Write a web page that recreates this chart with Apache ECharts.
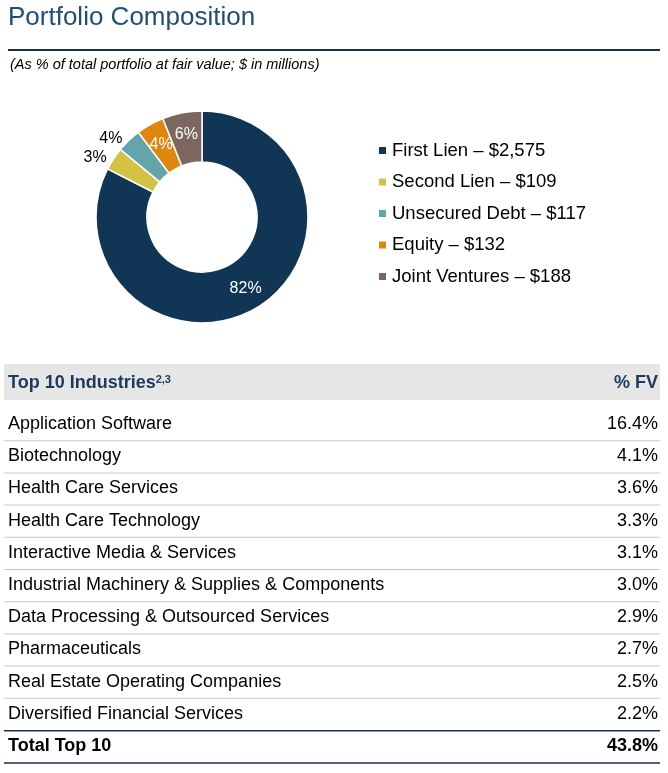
<!DOCTYPE html>
<html>
<head>
<meta charset="utf-8">
<script src="https://cdn.jsdelivr.net/npm/echarts@6/dist/echarts.min.js"></script>
<style>
  html, body { margin: 0; padding: 0; background: #fff; }
  #chart { width: 668px; height: 773px; }
</style>
</head>
<body>
<div id="chart"></div>
<script>
// portfolio mix, $ in millions
var assetNames = ['First Lien', 'Second Lien', 'Unsecured Debt', 'Equity', 'Joint Ventures'];
var assetValues = [2575, 109, 117, 132, 188];
var assetPct = ['82%', '3%', '4%', '4%', '6%'];
var assetColors = ['#113555', '#d4c244', '#66a4ab', '#df860f', '#7b6660'];
var insideLabel = [true, false, false, true, true];

var industries = ['Application Software', 'Biotechnology', 'Health Care Services', 'Health Care Technology',
  'Interactive Media & Services', 'Industrial Machinery & Supplies & Components',
  'Data Processing & Outsourced Services', 'Pharmaceuticals', 'Real Estate Operating Companies',
  'Diversified Financial Services'];
var industryPct = ['16.4%', '4.1%', '3.6%', '3.3%', '3.1%', '3.0%', '2.9%', '2.7%', '2.5%', '2.2%'];
var totalLabel = 'Total Top 10';
var totalPct = '43.8%';

var font = 'Liberation Sans, Arial, sans-serif';
var navy = '#1b3a5c';
var rowFont = '18px ' + font;

var pieData = assetNames.map(function (n, i) {
  var lab = insideLabel[i]
    ? { position: 'inside', color: '#fff' }
    : { position: 'outside', color: '#000', distance: 2 };
  return {
    name: n, value: assetValues[i], pct: assetPct[i],
    itemStyle: { color: assetColors[i] },
    label: lab, labelLine: { show: false, length: 2, length2: 0 }
  };
});

var g = [
  { type: 'text', left: 8, top: 5, style: { text: 'Portfolio Composition', font: '26px ' + font, fill: '#1f4e79' } },
  { type: 'rect', shape: { x: 8, y: 49, width: 652, height: 2 }, style: { fill: '#1b2f4a' } },
  { type: 'text', left: 10, top: 57, style: { text: '(As % of total portfolio at fair value; $ in millions)', font: 'italic 14.5px ' + font, fill: '#000' } },
  { type: 'rect', shape: { x: 4, y: 364, width: 656, height: 36 }, style: { fill: '#e6e6e6' } },
  { type: 'text', left: 8, top: 374, style: { rich: {
      b: { font: 'bold 18px ' + font, fill: navy },
      s: { font: 'bold 11px ' + font, fill: navy, verticalAlign: 'top', padding: [0, 0, 8, 0] } },
      text: '{b|Top 10 Industries}{s|2,3}' } },
  { type: 'text', right: 10, top: 374, style: { text: '% FV', font: 'bold 18px ' + font, fill: navy, align: 'right' } }
];

var rowTop = 408, rowH = 32.2;
industries.forEach(function (name, i) {
  var y = rowTop + i * rowH;
  g.push({ type: 'text', left: 8, top: y + 7, style: { text: name, font: rowFont, fill: '#000' } });
  g.push({ type: 'text', right: 10, top: y + 7, style: { text: industryPct[i], font: rowFont, fill: '#000', align: 'right' } });
  if (i < industries.length - 1) {
    g.push({ type: 'rect', shape: { x: 4, y: y + rowH, width: 656, height: 1 }, style: { fill: '#c8c8c8' } });
  }
});
var ty = rowTop + industries.length * rowH;
g.push({ type: 'rect', shape: { x: 4, y: ty, width: 656, height: 1.5 }, style: { fill: '#1b2f4a' } });
g.push({ type: 'text', left: 8, top: ty + 7, style: { text: totalLabel, font: 'bold 18px ' + font, fill: '#000' } });
g.push({ type: 'text', right: 10, top: ty + 7, style: { text: totalPct, font: 'bold 18px ' + font, fill: '#000', align: 'right' } });
g.push({ type: 'rect', shape: { x: 4, y: ty + rowH, width: 656, height: 1.5 }, style: { fill: '#1b2f4a' } });

var chart = echarts.init(document.getElementById('chart'));
chart.setOption({
  animation: false,
  textStyle: { fontFamily: font },
  legend: {
    orient: 'vertical', left: 372, top: 136, itemGap: 12.5,
    icon: 'rect', itemWidth: 9, itemHeight: 9,
    textStyle: { fontSize: 18.5, color: '#000', fontFamily: font },
    formatter: function (n) {
      var i = assetNames.indexOf(n);
      return n + ' \u2013 $' + assetValues[i].toLocaleString('en-US');
    }
  },
  series: [{
    type: 'pie', center: [202, 217], radius: [55, 106], startAngle: 90,
    itemStyle: { borderColor: '#fff', borderWidth: 1.5 },
    label: { fontSize: 16, fontFamily: font, formatter: function (p) { return p.data.pct; } },
    emphasis: { disabled: true },
    data: pieData
  }],
  graphic: g
});
</script>
</body>
</html>
